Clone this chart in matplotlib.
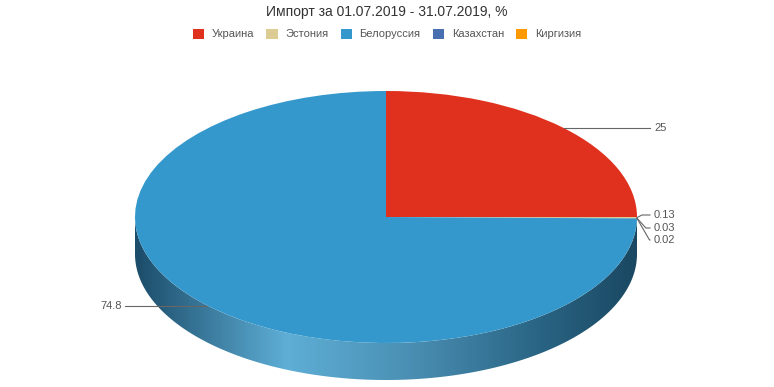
import numpy as np
import matplotlib
matplotlib.use("Agg")
import matplotlib.pyplot as plt
from matplotlib.patches import Patch, Polygon
from matplotlib.colors import LinearSegmentedColormap

plt.rcParams['font.family'] = ['Liberation Sans', 'DejaVu Sans']

# данные (порядок легенды)
countries = ["Украина", "Эстония", "Белоруссия", "Казахстан", "Киргизия"]
shares = [25, 0.13, 74.8, 0.03, 0.02]
labels = ["25", "0.13", "74.8", "0.03", "0.02"]
colors = ["#e0301e", "#dccb92", "#3498cc", "#4a6fb0", "#ff9900"]
# порядок секторов по часовой стрелке от 12 часов
draw_order = [0, 1, 3, 4, 2]

W, H = 774, 387
cx, cy = 386, 217      # центр эллипса, пиксели от верхнего края
rx, ry = 251, 126      # полуоси
depth = 37 / ry        # толщина "3d"-бока в единицах радиуса

fig = plt.figure(figsize=(W / 100, H / 100), dpi=100)
ax = fig.add_axes([0, 0, 1, 1])

# бок пирога - градиент
t = np.linspace(np.pi, 2 * np.pi, 200)
side = np.concatenate([np.c_[np.cos(t), np.sin(t)],
                       np.c_[np.cos(t[::-1]), np.sin(t[::-1]) - depth]])
side_patch = Polygon(side, closed=True, facecolor="none", edgecolor="none")
ax.add_patch(side_patch)
side_cmap = LinearSegmentedColormap.from_list(
    "side", [(0, "#1c4d6a"), (0.3, "#5eaed6"), (0.55, "#4a8fb3"),
             (0.8, "#2a6585"), (1, "#1a4862")])
grad = np.linspace(0, 1, 300).reshape(1, -1)
img = ax.imshow(grad, cmap=side_cmap, aspect="auto",
                extent=[-1, 1, -1 - depth, 0], zorder=1)
img.set_clip_path(side_patch)

# верх пирога
vals = [shares[i] for i in draw_order]
cols = [colors[i] for i in draw_order]
wedges, _ = ax.pie(vals, colors=cols, startangle=90, counterclock=False,
                   radius=1, center=(0, 0), normalize=True,
                   wedgeprops=dict(linewidth=0))
for w in wedges:
    w.set_zorder(2)

ax.set_aspect("auto")
ax.set_xlim(-cx / rx, (W - cx) / rx)
ax.set_ylim(-(H - cy) / ry, cy / ry)
ax.axis("off")

# подписи
def px(x, y):
    return (x - cx) / rx, (cy - y) / ry

total = sum(vals)
start = 90.0
label_y = {0: None, 1: 215, 3: 228, 4: 240, 2: None}
for k, i in enumerate(draw_order):
    span = shares[i] / total * 360
    mid = np.deg2rad(start - span / 2)
    start -= span
    ex, ey = np.cos(mid), np.sin(mid)
    if i == 2:
        lx, ly = px(125, 0)[0], ey
        ax.plot([ex, lx], [ey, ly], color="#666666", lw=0.8, zorder=3)
        ax.text(lx - 3 / rx, ly, labels[i], ha="right", va="center",
                fontsize=8, color="#555555")
    elif label_y[i] is None:
        lx = px(650, 0)[0]
        ax.plot([ex, lx], [ey, ey], color="#666666", lw=0.8, zorder=3)
        ax.text(lx + 4 / rx, ey, labels[i], ha="left", va="center",
                fontsize=8, color="#555555")
    else:
        yy = px(0, label_y[i])[1]
        bx = px(638 + (label_y[i] - 215) * 0.3 + 4, 0)[0]
        lx = px(650, 0)[0]
        ax.plot([ex, bx, lx], [ey, yy, yy], color="#666666", lw=0.8, zorder=3)
        ax.text(lx + 4 / rx, yy, labels[i], ha="left", va="center",
                fontsize=8, color="#555555")

fig.text(0.5, 1 - 12 / H, "Импорт за 01.07.2019 - 31.07.2019, %",
         ha="center", va="center", fontsize=10, color="#333333")

handles = [Patch(facecolor=c, edgecolor="none") for c in colors]
fig.legend(handles, countries, loc="center", bbox_to_anchor=(0.5, 1 - 34 / H),
           ncol=5, frameon=False, fontsize=8, handlelength=1.0, handleheight=1.0,
           handletextpad=0.7, columnspacing=1.1, labelcolor="#555555")

fig.savefig("out.png", dpi=100)
